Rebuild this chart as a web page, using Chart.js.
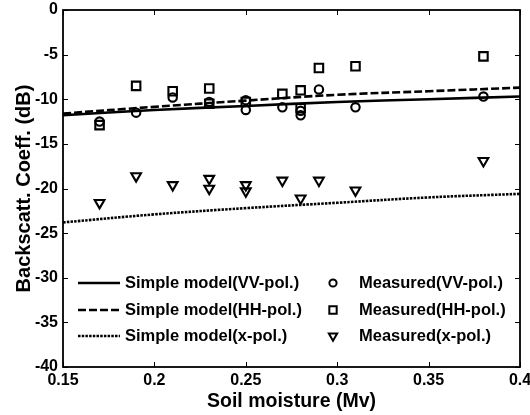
<!DOCTYPE html>
<html>
<head>
<meta charset="utf-8">
<script src="https://cdn.jsdelivr.net/npm/chart.js@4.4.1/dist/chart.umd.min.js"></script>
<style>
  html, body { margin: 0; padding: 0; background: #fff; }
  #wrap { width: 530px; height: 415px; }
</style>
</head>
<body>
<div id="wrap"><canvas id="c" width="530" height="415"></canvas></div>
<script>
// soil moisture vs backscatter, model curves + measured points

const mvModel = [0.15, 0.2, 0.25, 0.3, 0.35, 0.4];
const vvModel = [-11.8, -11.2, -10.75, -10.3, -10.0, -9.7];
const hhModel = [-11.6, -10.85, -10.15, -9.5, -9.1, -8.7];
const xpModel = [-23.8, -22.9, -22.2, -21.6, -21.0, -20.6];

const mvMeas = [0.17, 0.19, 0.21, 0.23, 0.23, 0.25, 0.25, 0.27, 0.28, 0.28, 0.29, 0.31, 0.38];
const vvMeas = [-12.5, -11.5, -9.8, -10.3, null, -10.1, -11.2, -10.9, -11.3, -11.8, -8.9, -10.9, -9.7];
const hhMeas = [-12.9, -8.5, -9.1, -8.8, -10.5, -10.3, null, -9.4, -9.0, -11.0, -6.5, -6.3, -5.2];
const xpMeas = [-21.6, -18.6, -19.6, -18.9, -20.0, -19.6, -20.3, -19.1, -21.1, null, -19.1, -20.2, -16.9];

const xTicks = [0.15, 0.2, 0.25, 0.3, 0.35, 0.4];
const yTicks = [0, -5, -10, -15, -20, -25, -30, -35, -40];

const FONT = "'Liberation Sans', Arial, Helvetica, sans-serif";

const pts = (xs, ys) => xs.map((x, i) => ({ x, y: ys[i] })).filter(p => p.y !== null);

const modelLine = (label, ys, dash) => ({
    label,
    data: pts(mvModel, ys),
    showLine: true,
    borderColor: '#000',
    borderWidth: 2.6,
    borderDash: dash,
    tension: 0.4,
    pointRadius: 0,
    kind: 'line'
});

const measured = (label, ys, style, r, rot) => ({
    label,
    data: pts(mvMeas, ys),
    showLine: false,
    pointStyle: style,
    pointRadius: r,
    pointRotation: rot || 0,
    pointBorderWidth: 2.1,
    pointBorderColor: '#000',
    pointBackgroundColor: 'rgba(0,0,0,0)',
    borderColor: '#000',
    kind: 'point'
});

const datasets = [
    modelLine('Simple model(VV-pol.)', vvModel, []),
    modelLine('Simple model(HH-pol.)', hhModel, [8, 3]),
    modelLine('Simple model(x-pol.)', xpModel, [2.5, 1.2]),
    measured('Measured(VV-pol.)', vvMeas, 'circle', 4.2),
    measured('Measured(HH-pol.)', hhMeas, 'rect', 6),
    measured('Measured(x-pol.)', xpMeas, 'triangle', 5.6, 180)
];

// box + inward ticks + legend inside the plot
const frame = {
    id: 'frame',
    afterDraw(chart) {
        const { ctx, chartArea: a, scales } = chart;
        ctx.save();
        ctx.strokeStyle = '#000';
        ctx.lineWidth = 1;
        const tl = 5;
        xTicks.forEach(v => {
            const px = Math.round(scales.x.getPixelForValue(v)) + 0.5;
            ctx.beginPath();
            ctx.moveTo(px, a.bottom); ctx.lineTo(px, a.bottom - tl);
            ctx.moveTo(px, a.top); ctx.lineTo(px, a.top + tl);
            ctx.stroke();
        });
        yTicks.forEach(v => {
            const py = Math.round(scales.y.getPixelForValue(v)) + 0.5;
            ctx.beginPath();
            ctx.moveTo(a.left, py); ctx.lineTo(a.left + tl, py);
            ctx.moveTo(a.right, py); ctx.lineTo(a.right - tl, py);
            ctx.stroke();
        });
        ctx.lineWidth = 1.8;
        ctx.strokeRect(a.left, a.top, a.right - a.left, a.bottom - a.top);

        // legend
        ctx.font = 'bold 16.5px ' + FONT;
        ctx.fillStyle = '#000';
        ctx.textBaseline = 'middle';
        ctx.textAlign = 'left';
        const rows = [283, 310, 336];
        const lines = datasets.filter(d => d.kind === 'line');
        const marks = datasets.filter(d => d.kind === 'point');
        lines.forEach((d, i) => {
            const y = rows[i];
            ctx.beginPath();
            ctx.lineWidth = d.borderWidth;
            ctx.setLineDash(d.borderDash);
            ctx.moveTo(78, y); ctx.lineTo(120, y);
            ctx.stroke();
            ctx.setLineDash([]);
            ctx.fillText(d.label, 125, y);
        });
        const legR = { circle: 3.6, rect: 5.2, triangle: 4.8 };
        marks.forEach((d, i) => {
            const y = rows[i];
            ctx.lineWidth = 2;
            ctx.strokeStyle = '#000';
            ctx.fillStyle = 'rgba(0,0,0,0)';
            Chart.helpers.drawPoint(ctx, {
                pointStyle: d.pointStyle,
                radius: legR[d.pointStyle],
                rotation: d.pointRotation,
                borderWidth: 2
            }, 333, y);
            ctx.fillStyle = '#000';
            ctx.fillText(d.label, 359, y);
        });
        ctx.restore();
    }
};

new Chart(document.getElementById('c'), {
    type: 'scatter',
    data: { datasets },
    options: {
        responsive: false,
        animation: false,
        events: [],
        layout: { padding: { top: 10, right: 10, left: 0, bottom: 0 } },
        plugins: { legend: { display: false }, tooltip: { enabled: false } },
        scales: {
            x: {
                type: 'linear',
                min: 0.15,
                max: 0.4,
                afterBuildTicks: s => { s.ticks = xTicks.map(v => ({ value: v })); },
                afterFit: s => { s.height = 48; s.paddingLeft = 0; s.paddingRight = 0; },
                grid: { display: false, drawTicks: false },
                border: { display: false },
                ticks: {
                    color: '#000',
                    padding: 4,
                    maxRotation: 0,
                    autoSkip: false,
                    font: { family: FONT, size: 16, weight: 'bold' },
                    callback: v => String(+v.toFixed(2))
                },
                title: {
                    display: true,
                    text: 'Soil moisture (Mv)',
                    color: '#000',
                    font: { family: FONT, size: 19.5, weight: 'bold', lineHeight: 1.2 },
                    padding: { top: 0, bottom: 2 }
                }
            },
            y: {
                min: -40,
                max: 0,
                afterBuildTicks: s => { s.ticks = yTicks.map(v => ({ value: v })); },
                afterFit: s => { s.width = 63; s.paddingTop = 0; s.paddingBottom = 0; },
                grid: { display: false, drawTicks: false },
                border: { display: false },
                ticks: {
                    color: '#000',
                    padding: 5,
                    autoSkip: false,
                    font: { family: FONT, size: 16, weight: 'bold' }
                },
                title: {
                    display: true,
                    text: 'Backscatt. Coeff. (dB)',
                    color: '#000',
                    font: { family: FONT, size: 20, weight: 'bold', lineHeight: 1.2 },
                    padding: { top: 12, bottom: 0 }
                }
            }
        }
    },
    plugins: [frame]
});
</script>
</body>
</html>
